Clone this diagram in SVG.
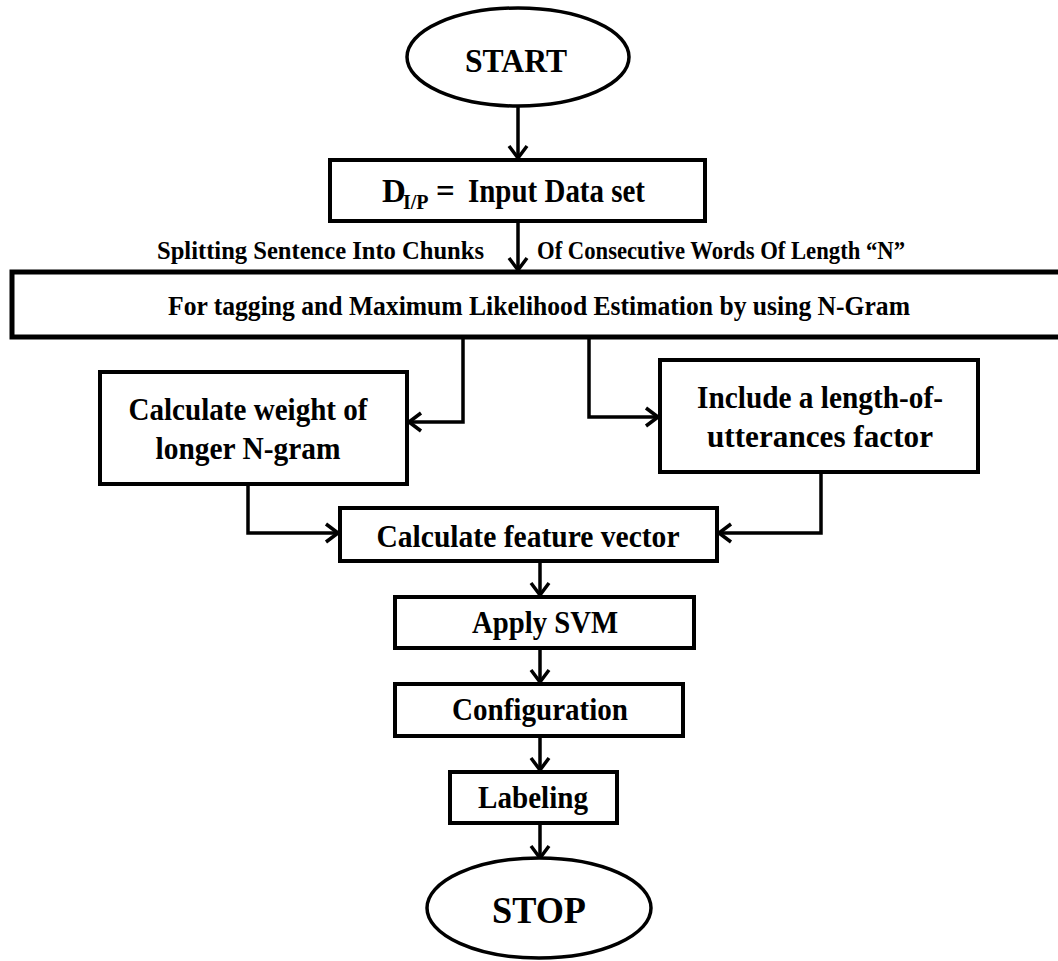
<svg xmlns="http://www.w3.org/2000/svg" width="1058" height="961" viewBox="0 0 1058 961">
<defs>
<marker id="arr" viewBox="0 0 16 22" refX="14" refY="11" markerWidth="16" markerHeight="22" markerUnits="userSpaceOnUse" orient="auto"><path d="M2,2 L14,11 L2,20" fill="none" stroke="#000" stroke-width="3.5"/></marker>
</defs>
<style>
.box{fill:#fff;stroke:#000;stroke-width:4}
.ell{fill:#fff;stroke:#000;stroke-width:3.5}
.t{font-family:"Liberation Serif","Times New Roman",serif;font-weight:bold;fill:#000;text-anchor:middle}
.s{text-anchor:start}
.e{text-anchor:end}
.c{fill:none;stroke:#000;stroke-width:3.5;marker-end:url(#arr)}
</style>
<rect width="1058" height="961" fill="#fff"/>
<g id="connectors">
<path class="c" d="M518,107 V158"/>
<path class="c" d="M518,222 V270"/>
<path class="c" d="M463,337 V422 H409"/>
<path class="c" d="M589,337 V417 H658"/>
<path class="c" d="M248,484 V533 H338"/>
<path class="c" d="M821,472 V533 H719"/>
<path class="c" d="M540,561 V595"/>
<path class="c" d="M540,648 V682"/>
<path class="c" d="M540,736 V770"/>
<path class="c" d="M540,823 V858"/>
</g>
<g id="start">
<ellipse class="ell" cx="518" cy="57" rx="111" ry="49"/>
<text class="t" x="516" y="72" font-size="33" textLength="102" lengthAdjust="spacingAndGlyphs">START</text>
</g>
<g id="input">
<rect class="box" x="330" y="160" width="375" height="61"/>
<text class="t s" x="382" y="202" font-size="33">D</text>
<text class="t s" x="403" y="209" font-size="20">I/P</text>
<text class="t s" x="436" y="202" font-size="33">=</text>
<text class="t s" x="468" y="202" font-size="33" textLength="177" lengthAdjust="spacingAndGlyphs">Input Data set</text>
</g>
<g id="split-label">
<text class="t e" x="484" y="259" font-size="26" textLength="327" lengthAdjust="spacingAndGlyphs">Splitting Sentence Into Chunks</text>
<text class="t s" x="537" y="259" font-size="26" textLength="368" lengthAdjust="spacingAndGlyphs">Of Consecutive Words Of Length “N”</text>
</g>
<g id="ngram">
<rect class="box" x="12" y="272" width="1060" height="65" style="stroke-width:5"/>
<text class="t" x="539" y="315" font-size="28" textLength="742" lengthAdjust="spacingAndGlyphs">For tagging and Maximum Likelihood Estimation by using N-Gram</text>
</g>
<g id="weight">
<rect class="box" x="100" y="372" width="307" height="112"/>
<text class="t" x="248" y="420" font-size="32" textLength="239" lengthAdjust="spacingAndGlyphs">Calculate weight of</text>
<text class="t" x="248" y="459" font-size="32" textLength="185" lengthAdjust="spacingAndGlyphs">longer N-gram</text>
</g>
<g id="length">
<rect class="box" x="660" y="360" width="318" height="112"/>
<text class="t" x="820" y="408" font-size="32" textLength="246" lengthAdjust="spacingAndGlyphs">Include a length-of-</text>
<text class="t" x="820" y="447" font-size="32" textLength="226" lengthAdjust="spacingAndGlyphs">utterances factor</text>
</g>
<g id="feature">
<rect class="box" x="340" y="508" width="377" height="53"/>
<text class="t" x="528" y="547" font-size="32" textLength="303" lengthAdjust="spacingAndGlyphs">Calculate  feature vector</text>
</g>
<g id="svm">
<rect class="box" x="395" y="597" width="299" height="51"/>
<text class="t" x="545" y="633" font-size="32" textLength="146" lengthAdjust="spacingAndGlyphs">Apply SVM</text>
</g>
<g id="config">
<rect class="box" x="395" y="684" width="288" height="52"/>
<text class="t" x="540" y="720" font-size="32" textLength="176" lengthAdjust="spacingAndGlyphs">Configuration</text>
</g>
<g id="labeling">
<rect class="box" x="450" y="772" width="167" height="51"/>
<text class="t" x="533" y="808" font-size="32" textLength="110" lengthAdjust="spacingAndGlyphs">Labeling</text>
</g>
<g id="stop">
<ellipse class="ell" cx="539" cy="908" rx="112" ry="50"/>
<text class="t" x="539" y="923" font-size="37" textLength="94" lengthAdjust="spacingAndGlyphs">STOP</text>
</g>
</svg>
